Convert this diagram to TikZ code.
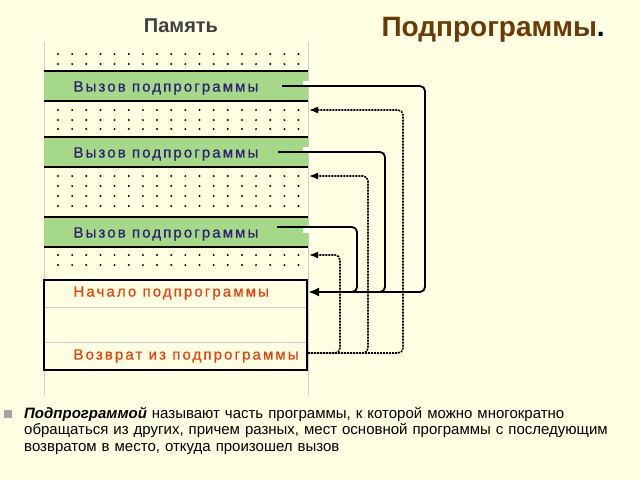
\documentclass[tikz,border=0pt]{standalone}
\usepackage{fontspec}
\setmainfont{Liberation Sans}
\newfontfamily\spaced[LetterSpace=14,FakeBold=0.6]{Liberation Sans}
\usetikzlibrary{arrows.meta}
\definecolor{bg}{HTML}{FFFFE3}
\definecolor{band}{HTML}{A6D88A}
\definecolor{navy}{HTML}{2B1F6E}
\definecolor{redt}{HTML}{E8400C}
\definecolor{brown}{HTML}{6B3A08}
\begin{document}
\begin{tikzpicture}[x=1pt,y=-1pt,
  sep/.style={line width=2pt},
  call/.style={line width=1.8pt,rounded corners=5pt},
  ret/.style={line width=1.6pt,dash pattern=on 2pt off 1pt,rounded corners=5pt,-{Latex[length=9pt,width=7pt]}},
  calltxt/.style={anchor=west,text=navy,font=\spaced\fontsize{15}{17}\selectfont},
  subtxt/.style={anchor=west,text=redt,font=\spaced\fontsize{15}{17}\selectfont}]
\fill[bg] (0,0) rectangle (640,480);
\useasboundingbox (0,0) rectangle (640,480);
% column
\draw[gray!40,line width=0.8pt] (44,42) -- (44,395) (308,42) -- (308,395);
% dots
\foreach \y in {54,64,110,120,129,176,186,196,206,255,265}
  \foreach \i in {0,...,17} \fill (58+\i*14.15,\y) circle (1.1pt);
% green bands
\foreach \a/\n in {71/1,137/2,217/3}{
  \fill[band] (44,\a) rectangle (308,\a+30);
  \draw[sep] (44,\a) -- (308,\a) (44,\a+30) -- (308,\a+30);
  \fill[white] (303,\a+10) rectangle (309,\a+16);
}
\node[calltxt] (c1) at (70,88) {Вызов подпрограммы};
\node[calltxt] (c2) at (70,154) {Вызов подпрограммы};
\node[calltxt] (c3) at (70,234) {Вызов подпрограммы};
% subroutine box
\draw[gray!40,line width=0.8pt] (44,307) -- (307,307) (44,342) -- (307,342);
\draw[line width=1.3pt] (44,280) rectangle (307,370);
\node[subtxt] (s1) at (70,293) {Начало подпрограммы};
\node[subtxt] (s2) at (70,356) {Возврат из подпрограммы};
\coordinate (entry) at (308,292);
\coordinate (exit) at (308,353);
% calls
\draw[call] (282,86) -- (425,86) -- (425,292) -- (330,292);
\draw[call] (278,152) -- (385,152) -- (385,292) -- (330,292);
\draw[call] (277,227) -- (357,227) -- (357,292) -- (330,292);
\draw[line width=2.5pt,-{Latex[length=11pt,width=9pt]}] (340,292) -- (entry);
% returns
\draw[ret] (exit) -- (403,353) -- (403,110) -- (309,110);
\draw[ret] (exit) -- (368,353) -- (368,176) -- (309,176);
\draw[ret] (exit) -- (340,353) -- (340,255) -- (309,255);
% titles
\node[font=\bfseries\fontsize{20}{22}\selectfont,text=black!75] (mem) at (181,26) {Память};
\node[font=\bfseries\fontsize{28}{30}\selectfont,text=brown,anchor=west] (title) at (378,30) {Подпрограммы\textcolor{black}{.}};
% bullet text
\fill[gray!70] (4,410) rectangle (12,418);
\node[anchor=north west,text width=590pt,align=left,inner sep=0pt,font=\fontsize{15}{16.5}\selectfont] (txt) at (24,407)
 {\textbf{\textit{Подпрограммой}} называют часть программы, к которой можно многократно обращаться из других, причем разных, мест основной программы с последующим возвратом в место, откуда произошел вызов};
\end{tikzpicture}
\end{document}
